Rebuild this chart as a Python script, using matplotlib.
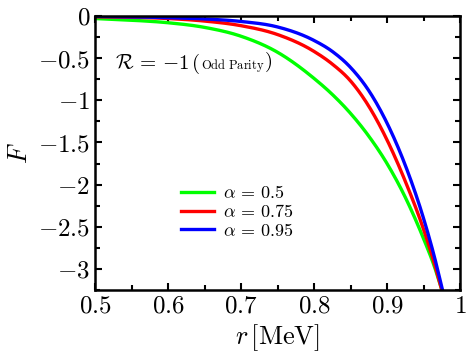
"""
F(r) for odd parity, three alpha values
"""

import numpy as np
import matplotlib
matplotlib.use('Agg')
import matplotlib.pyplot as plt
from matplotlib.ticker import MultipleLocator, FuncFormatter

plt.rcParams['mathtext.fontset'] = 'cm'
plt.rcParams['font.family'] = 'DejaVu Serif'

# ============================================
# DATA
# ============================================
r_green = [0.5, 0.55, 0.6, 0.65, 0.7, 0.75, 0.8, 0.825, 0.85, 0.875, 0.9, 0.925, 0.95, 0.965, 0.975]
F_green = [-0.03, -0.05, -0.08, -0.135, -0.24, -0.43, -0.74, -0.93, -1.155, -1.425, -1.75, -2.15, -2.64, -2.975, -3.245]

r_red = [0.5, 0.55, 0.6, 0.65, 0.7, 0.75, 0.8, 0.825, 0.85, 0.875, 0.9, 0.925, 0.95, 0.965, 0.975]
F_red = [-0.01, -0.015, -0.03, -0.06, -0.115, -0.22, -0.42, -0.57, -0.77, -1.07, -1.47, -1.96, -2.53, -2.94, -3.25]

r_blue = [0.5, 0.55, 0.6, 0.65, 0.7, 0.75, 0.8, 0.825, 0.85, 0.875, 0.9, 0.925, 0.95, 0.965, 0.976]
F_blue = [-0.005, -0.01, -0.02, -0.035, -0.065, -0.13, -0.29, -0.42, -0.61, -0.885, -1.27, -1.77, -2.40, -2.86, -3.25]

labels = [r'$\alpha\,=\,0.5$', r'$\alpha\,=\,0.75$', r'$\alpha\,=\,0.95$']
colors = ['#00ff00', '#ff0000', '#0000ff']


def smooth(x, y, n=400):
    """Piecewise cubic Hermite through the read points"""
    x = np.asarray(x)
    y = np.asarray(y)
    xs = np.linspace(x[0], x[-1], n)
    d = np.gradient(y, x)
    idx = np.clip(np.searchsorted(x, xs) - 1, 0, len(x) - 2)
    h = x[idx + 1] - x[idx]
    t = (xs - x[idx]) / h
    h00 = 2*t**3 - 3*t**2 + 1
    h10 = t**3 - 2*t**2 + t
    h01 = -2*t**3 + 3*t**2
    h11 = t**3 - t**2
    ys = h00*y[idx] + h10*h*d[idx] + h01*y[idx+1] + h11*h*d[idx+1]
    return xs, ys


fig = plt.figure(figsize=(4.71, 3.61), dpi=100)
ax = fig.add_axes([0.2017, 0.1967, 0.775, 0.759])

for (rx, fy), lab, c in zip([(r_green, F_green), (r_red, F_red), (r_blue, F_blue)], labels, colors):
    xs, ys = smooth(rx, fy)
    ax.plot(xs, ys, color=c, lw=2.4, label=lab)

ax.set_xlim(0.5, 1.0)
ax.set_ylim(-3.25, 0)

ax.xaxis.set_major_locator(MultipleLocator(0.1))
ax.xaxis.set_minor_locator(MultipleLocator(0.05))
ax.yaxis.set_major_locator(MultipleLocator(0.5))
ax.yaxis.set_minor_locator(MultipleLocator(0.25))
fmt = FuncFormatter(lambda v, p: f'${v:g}$')
ax.xaxis.set_major_formatter(fmt)
ax.yaxis.set_major_formatter(fmt)

ax.tick_params(which='both', direction='in', top=True, right=True, width=1.5, labelsize=18)
ax.tick_params(which='major', length=5)
ax.tick_params(which='minor', length=3.5)
for s in ax.spines.values():
    s.set_linewidth(1.8)

ax.set_xlabel(r'$r\,[\mathrm{MeV}]$', fontsize=19, labelpad=3)
ax.set_ylabel(r'$F$', fontsize=19, labelpad=4)

# annotation: R = -1 (Odd Parity)
t1 = ax.text(0.055, 0.805, r'$\mathcal{R}\,=\,{-1}\,($', fontsize=15,
             transform=ax.transAxes, va='baseline')
t2 = ax.annotate(r'$\mathrm{Odd\ Parity}$', xy=(1, 0.08), xycoords=t1,
                 fontsize=9, va='bottom', ha='left')
ax.annotate(r'$)$', xy=(1, 0), xycoords=t1, xytext=(1, 0), textcoords=t2,
            fontsize=15, va='bottom', ha='left')

ax.legend(loc='center', bbox_to_anchor=(0.39, 0.285), frameon=False, fontsize=13,
          handlelength=1.8, handletextpad=0.5, labelspacing=0.05)

fig.savefig('out.png', dpi=100)
